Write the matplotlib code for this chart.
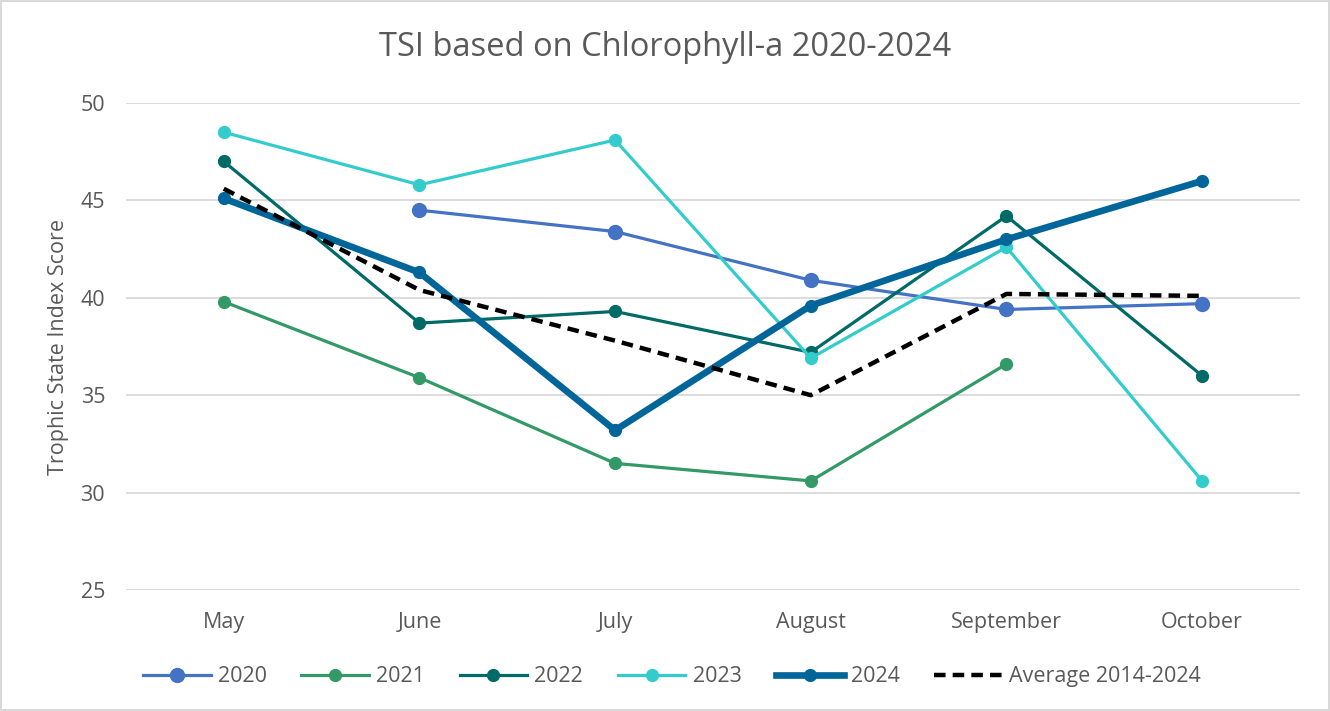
import numpy as np
from matplotlib import pyplot as plt

plt.rcParams["font.family"] = ["Open Sans", "DejaVu Sans"]

months = ["May", "June", "July", "August", "September", "October"]

tsi_2020 = [np.nan, 44.5, 43.4, 40.9, 39.4, 39.7]
tsi_2021 = [39.8, 35.9, 31.5, 30.6, 36.6, np.nan]
tsi_2022 = [47.0, 38.7, 39.3, 37.2, 44.2, 36.0]
tsi_2023 = [48.5, 45.8, 48.1, 36.9, 42.6, 30.6]
tsi_2024 = [45.1, 41.3, 33.2, 39.6, 43.0, 46.0]
tsi_avg = [45.6, 40.4, 37.8, 35.0, 40.2, 40.1]

grey = "#595959"

fig = plt.figure(figsize=(13.3, 7.11), dpi=100)
fig.patch.set_edgecolor("#D9D9D9")
fig.patch.set_linewidth(1.5)
ax = fig.add_axes([0.0947, 0.1702, 0.8827, 0.6849])

x = np.arange(len(months))

ax.plot(x, tsi_2020, "-o", color="#4472C4", lw=2.3, ms=10, label="2020", zorder=3)
ax.plot(x, tsi_2021, "-o", color="#339966", lw=2.3, ms=8.5, label="2021", zorder=3)
ax.plot(x, tsi_2022, "-o", color="#006A66", lw=2.3, ms=8.5, label="2022", zorder=3)
ax.plot(x, tsi_2023, "-o", color="#33CCCC", lw=2.3, ms=8.5, label="2023", zorder=3)
ax.plot(x, tsi_2024, "-o", color="#006699", lw=4.8, ms=8.5, label="2024", zorder=4)
ax.plot(x, tsi_avg, "--", color="black", lw=3.2, dashes=(2.6, 1.6),
        label="Average 2014-2024", zorder=5)

ax.set_xlim(-0.5, 5.5)
ax.set_ylim(25, 50)
ax.set_yticks([25, 30, 35, 40, 45, 50])
ax.set_xticks(x)
ax.set_xticklabels(months)
ax.tick_params(length=0, labelsize=15.5, colors=grey, pad=16)
ax.tick_params(axis="y", pad=15)
ax.grid(axis="y", color="#D9D9D9", lw=1.3)
ax.set_axisbelow(True)
for s in ax.spines.values():
    s.set_visible(False)

ax.set_ylabel("Trophic State Index Score", fontsize=15.5, color=grey, labelpad=8)
fig.suptitle("TSI based on Chlorophyll-a 2020-2024", fontsize=23.5, color=grey, y=0.957)

ax.legend(loc="center", bbox_to_anchor=(0.465, -0.178), ncol=6, frameon=False,
          fontsize=15.5, labelcolor=grey, handlelength=3.15, columnspacing=1.6,
          handletextpad=0.33)

fig.savefig("out.png", dpi=100)
